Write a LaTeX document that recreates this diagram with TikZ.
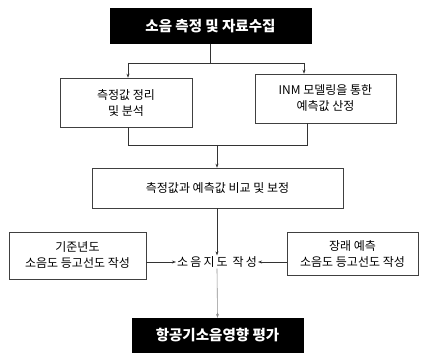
\documentclass[tikz,border=0pt]{standalone}
\usepackage{fontspec}
\setmainfont{Noto Sans CJK KR}
\newfontfamily\spacedfont[LetterSpace=18]{Noto Sans CJK KR}
\usetikzlibrary{arrows.meta}
\begin{document}
\begin{tikzpicture}[x=1pt,y=-1pt,
  darkbox/.style={draw=black,fill=black,text=white,font=\bfseries\fontsize{14.5}{16}\selectfont,inner sep=0pt},
  lightbox/.style={draw=black!75,line width=0.6pt,fill=white,align=center,font=\fontsize{12}{16}\selectfont,inner sep=0pt},
  conn/.style={draw=black!80,line width=0.6pt},
  arr/.style={conn,-{Stealth[length=4pt,width=3pt]}}]
\useasboundingbox (0,0) rectangle (421,355);
% nodes
\node[darkbox,minimum width=201pt,minimum height=35pt] (top) at (210.5,26) {소음 측정 및 자료수집};
\node[lightbox,minimum width=132pt,minimum height=49pt] (meas) at (126,102.5) {측정값 정리\\및 분석};
\node[lightbox,minimum width=141pt,minimum height=49pt] (inm) at (325.5,98.5) {INM 모델링을 통한\\예측값 산정};
\node[lightbox,minimum width=251pt,minimum height=40pt] (comp) at (217.5,188) {측정값과 예측값 비교 및 보정};
\node[lightbox,minimum width=137pt,minimum height=47pt] (base) at (77.5,255.5) {기준년도\\소음도 등고선도 작성};
\node[font=\spacedfont\fontsize{12}{16}\selectfont,inner sep=1pt] (map) at (217,262) {소음지도 작성};
\node[lightbox,minimum width=131pt,minimum height=43pt] (fut) at (352.5,253.5) {장래 예측\\소음도 등고선도 작성};
\node[darkbox,minimum width=171pt,minimum height=34pt] (eval) at (217.5,335) {항공기소음영향 평가};
% connectors
\coordinate (j1) at (top.south |- 0,63);
\coordinate (jl) at (128,63);
\coordinate (jr) at (304,63);
\draw[conn] (top.south) -- (j1);
\draw[conn] (jl) -- (jr);
\draw[arr] (jl) -- (jl |- meas.north);
\draw[arr] (jr) -- (jr |- inm.north);
\coordinate (kl) at (128,145);
\coordinate (kr) at (307,145);
\coordinate (km) at (217,145);
\draw[conn] (meas.south -| kl) -- (kl) -- (kr) -- (inm.south -| kr);
\draw[arr] (km) -- (km |- comp.north);
\draw[arr] (comp.south -| map.north) -- (map.north);
\draw[arr] (base.east |- map.west) -- (map.west);
\draw[arr] (fut.west |- map.east) -- (map.east);
\draw[arr,draw=black!45] (map.south) -- (eval.north);
\end{tikzpicture}
\end{document}
